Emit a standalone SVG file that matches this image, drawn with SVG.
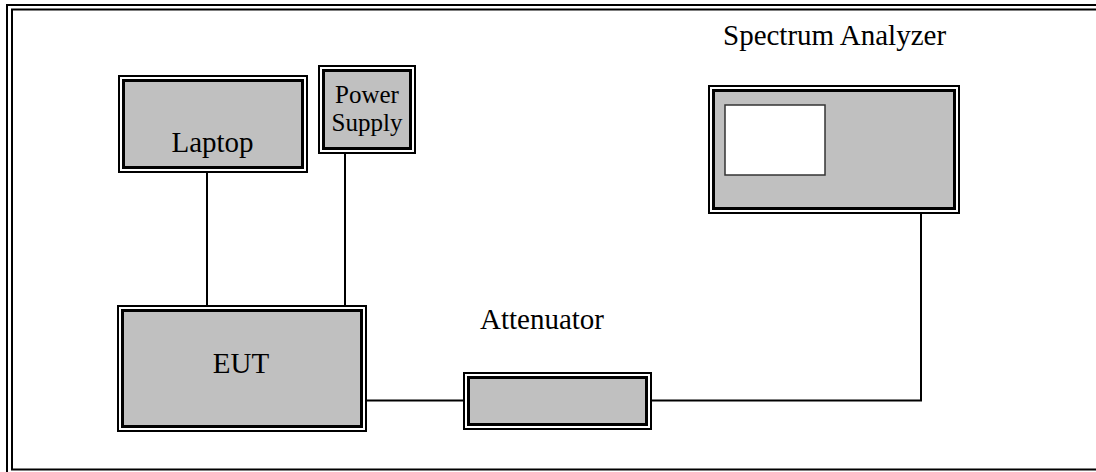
<svg xmlns="http://www.w3.org/2000/svg" width="1096" height="472" viewBox="0 0 1096 472">
<style>
.o{fill:#ffffff;stroke:#000;stroke-width:2}
.i{fill:#c0c0c0;stroke:#000;stroke-width:3}
.c{fill:none;stroke:#000;stroke-width:2}
.t{font-family:"Liberation Serif","Times New Roman",serif;font-size:29px;fill:#000}
.s{font-size:25px}
</style>
<rect x="0" y="0" width="1096" height="472" fill="#ffffff"/>
<g id="frame">
<path class="c" d="M7,472 V5 H1100"/>
<path class="c" d="M12,470 V9.5 H1100"/>
<path class="c" d="M11,469.5 H1100"/>
</g>
<g id="connectors">
<path class="c" d="M207,173 V305"/>
<path class="c" d="M345,154 V305"/>
<path class="c" d="M367,400.5 H463"/>
<path class="c" d="M652,400.5 H921 V214"/>
</g>
<g id="laptop">
<rect class="o" x="119" y="76" width="188" height="96"/>
<rect class="i" x="123.5" y="80.5" width="179" height="87"/>
<text class="t" x="212.5" y="152" text-anchor="middle">Laptop</text>
</g>
<g id="power-supply">
<rect class="o" x="319" y="66" width="96" height="87"/>
<rect class="i" x="323.5" y="70.5" width="87" height="78"/>
<text class="t s" x="367" y="103" text-anchor="middle">Power</text>
<text class="t s" x="367" y="131" text-anchor="middle">Supply</text>
</g>
<g id="eut">
<rect class="o" x="118" y="306" width="248" height="125"/>
<rect class="i" x="122.5" y="310.5" width="239" height="116"/>
<text class="t" x="241" y="373" text-anchor="middle">EUT</text>
</g>
<g id="attenuator">
<rect class="o" x="464" y="373" width="187" height="56"/>
<rect class="i" x="468.5" y="377.5" width="178" height="47"/>
<text class="t" x="480" y="329">Attenuator</text>
</g>
<g id="spectrum-analyzer">
<rect class="o" x="709" y="86" width="250" height="127"/>
<rect class="i" x="713.5" y="90.5" width="241" height="118"/>
<rect x="725" y="105" width="100" height="70" fill="#ffffff" stroke="#333" stroke-width="1.5"/>
<text class="t" x="723" y="45">Spectrum Analyzer</text>
</g>
</svg>
